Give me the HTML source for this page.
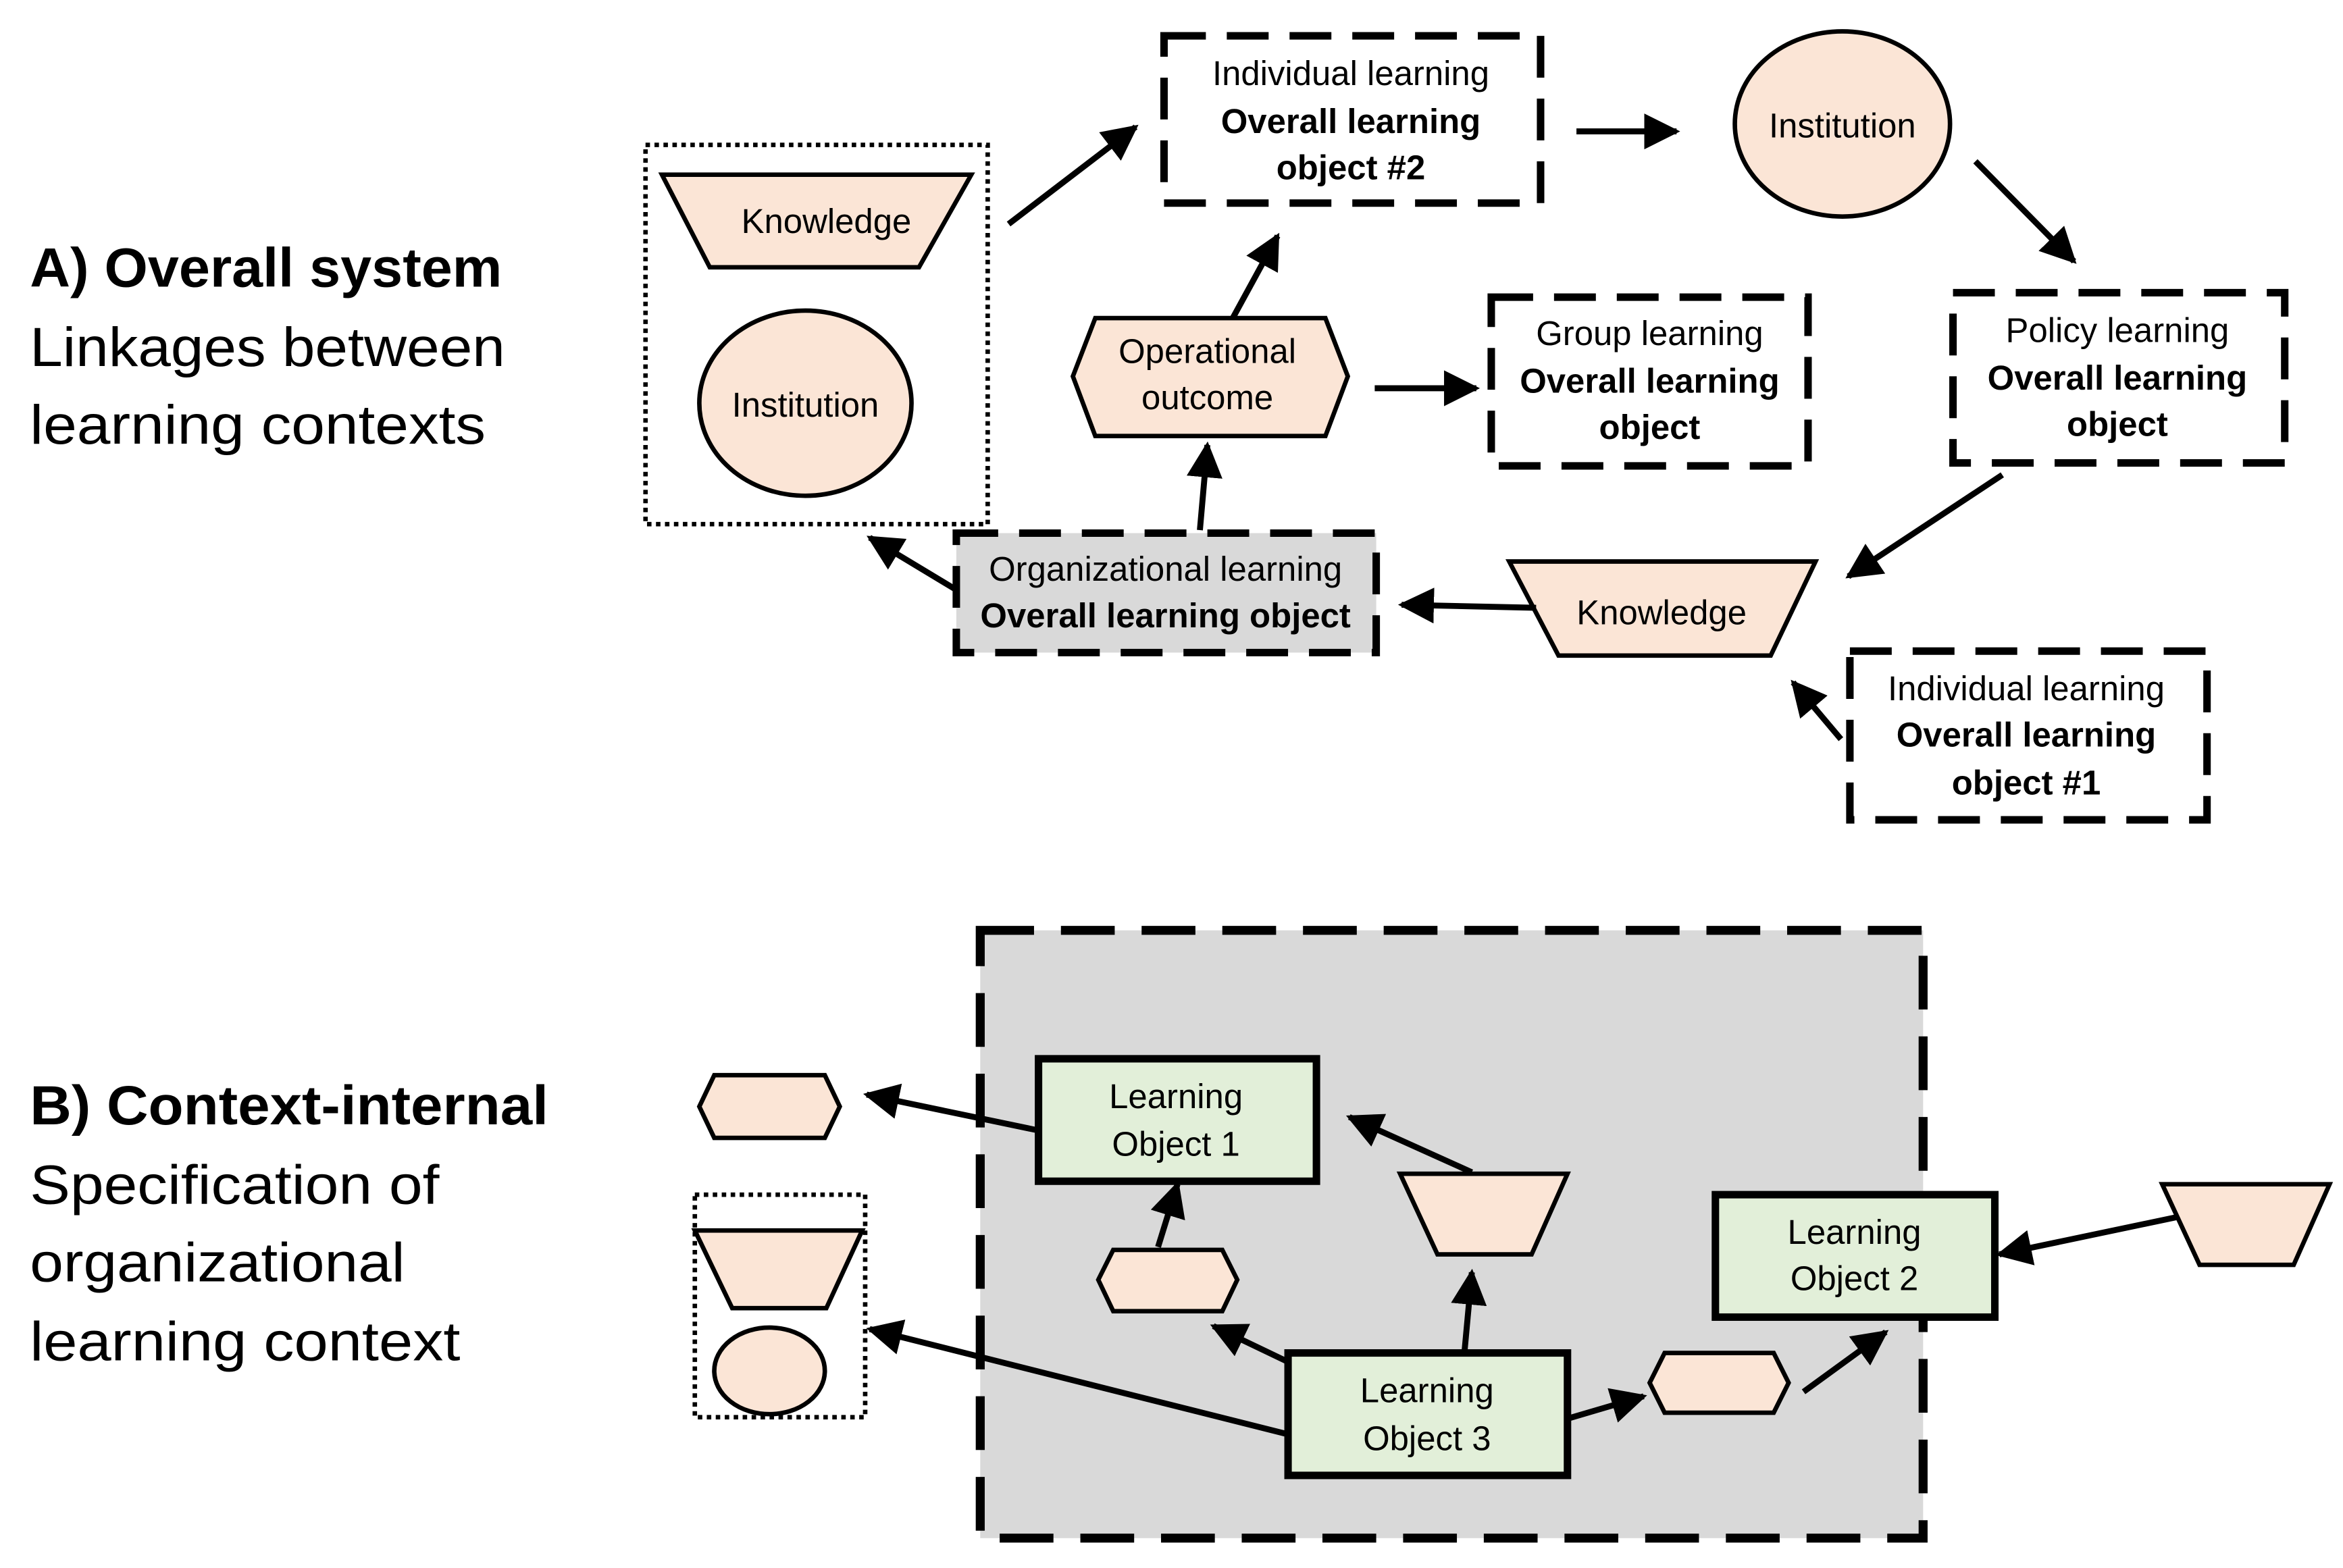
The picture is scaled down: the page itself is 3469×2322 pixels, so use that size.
<!DOCTYPE html>
<html><head><meta charset="utf-8"><style>
html,body{margin:0;padding:0;background:#fff;}
svg{display:block;}
text{font-family:"Liberation Sans",sans-serif;fill:#000;}
</style></head><body>
<svg width="3469" height="2322" viewBox="0 0 1568 1050" preserveAspectRatio="none" xmlns="http://www.w3.org/2000/svg">
<defs>
<marker id="a" viewBox="0 0 10 10" refX="9" refY="5" markerWidth="6" markerHeight="6" markerUnits="strokeWidth" orient="auto">
<path d="M0,0 L10,5 L0,10 z" fill="#000"/></marker>
</defs>
<g font-size="37">
<text x="20" y="192" font-weight="bold" textLength="316" lengthAdjust="spacingAndGlyphs">A) Overall system</text>
<text x="20" y="245" textLength="318" lengthAdjust="spacingAndGlyphs">Linkages between</text>
<text x="20" y="297" textLength="305" lengthAdjust="spacingAndGlyphs">learning contexts</text>
<text x="20" y="753" font-weight="bold" textLength="347" lengthAdjust="spacingAndGlyphs">B) Context-internal</text>
<text x="20" y="806" textLength="274" lengthAdjust="spacingAndGlyphs">Specification of</text>
<text x="20" y="858" textLength="251" lengthAdjust="spacingAndGlyphs">organizational</text>
<text x="20" y="911" textLength="288" lengthAdjust="spacingAndGlyphs">learning context</text>
</g>
<g stroke="#000" stroke-width="3" fill="#fbe5d6">
<rect x="656" y="623" width="631" height="407" fill="#d9d9d9" stroke-width="6" stroke-dasharray="36,18"/>
<rect x="432" y="97" width="229" height="254" fill="none" stroke-width="3" stroke-dasharray="3,3"/>
<polygon points="443,117 650,117 615,179 475,179"/>
<ellipse cx="539" cy="270" rx="71" ry="62"/>
<ellipse cx="1233" cy="83" rx="72" ry="62"/>
<polygon points="1010,376 1215,376 1185,439 1043,439"/>
<polygon points="718,252 733,213 887,213 902,252 887,292 733,292"/>
<g fill="#fff" stroke-width="5" stroke-dasharray="28,14">
<rect x="779" y="24" width="252" height="112"/>
<rect x="1307" y="196" width="222" height="114"/>
<rect x="998" y="199" width="212" height="113"/>
<rect x="1238" y="436" width="239" height="113"/>
<rect x="640" y="357" width="281" height="80" fill="#d9d9d9"/>
</g>
<polygon points="468,741 478,720 552,720 562,741 552,762 478,762"/>
<polygon points="735,857 745,837 818,837 828,857 818,878 745,878"/>
<polygon points="1104,926 1114,906 1187,906 1197,926 1187,946 1114,946"/>
<rect x="465" y="800" width="114" height="149" fill="none" stroke-dasharray="3,3"/>
<polygon points="465,824 577,824 553,876 490,876"/>
<ellipse cx="515" cy="918" rx="37" ry="29"/>
<polygon points="937,786 1049,786 1025,840 962,840"/>
<polygon points="1447,793 1559,793 1535,847 1472,847"/>
<g fill="#e2efd9" stroke-width="5">
<rect x="695" y="709" width="186" height="82"/>
<rect x="862" y="906" width="187" height="82"/>
<rect x="1148" y="800" width="187" height="82"/>
</g>
</g>
<g stroke="#000" stroke-width="4" fill="none" marker-end="url(#a)">
<line x1="675" y1="150" x2="760" y2="85"/>
<line x1="1055" y1="88" x2="1122" y2="88"/>
<line x1="1322" y1="108" x2="1388" y2="175"/>
<line x1="1340" y1="318" x2="1237" y2="386"/>
<line x1="1028" y1="407" x2="938" y2="405"/>
<line x1="640" y1="395" x2="582" y2="360"/>
<line x1="803" y1="355" x2="808" y2="298"/>
<line x1="825" y1="213" x2="855" y2="158"/>
<line x1="920" y1="260" x2="988" y2="260"/>
<line x1="1232" y1="495" x2="1200" y2="457"/>
<line x1="695" y1="757" x2="580" y2="733"/>
<line x1="985" y1="785" x2="903" y2="748"/>
<line x1="775" y1="835" x2="788" y2="793"/>
<line x1="862" y1="912" x2="812" y2="888"/>
<line x1="980" y1="906" x2="985" y2="852"/>
<line x1="860" y1="960" x2="582" y2="890"/>
<line x1="1049" y1="950" x2="1100" y2="935"/>
<line x1="1207" y1="932" x2="1262" y2="892"/>
<line x1="1457" y1="815" x2="1338" y2="840"/>
</g>
<g font-size="23" text-anchor="middle">
<text x="553" y="156">Knowledge</text>
<text x="539" y="279">Institution</text>
<text x="1233" y="92">Institution</text>
<text x="1112" y="418">Knowledge</text>
<text x="808" y="243">Operational</text>
<text x="808" y="274">outcome</text>
<text x="904" y="57">Individual learning</text>
<text x="904" y="89" font-weight="bold">Overall learning</text>
<text x="904" y="120" font-weight="bold">object #2</text>
<text x="1417" y="229">Policy learning</text>
<text x="1417" y="261" font-weight="bold">Overall learning</text>
<text x="1417" y="292" font-weight="bold">object</text>
<text x="1104" y="231">Group learning</text>
<text x="1104" y="263" font-weight="bold">Overall learning</text>
<text x="1104" y="294" font-weight="bold">object</text>
<text x="1356" y="469">Individual learning</text>
<text x="1356" y="500" font-weight="bold">Overall learning</text>
<text x="1356" y="532" font-weight="bold">object #1</text>
<text x="780" y="389">Organizational learning</text>
<text x="780" y="420" font-weight="bold">Overall learning object</text>
<text x="787" y="742">Learning</text>
<text x="787" y="774">Object 1</text>
<text x="955" y="939">Learning</text>
<text x="955" y="971">Object 3</text>
<text x="1241" y="833">Learning</text>
<text x="1241" y="864">Object 2</text>
</g>
</svg>
</body></html>
